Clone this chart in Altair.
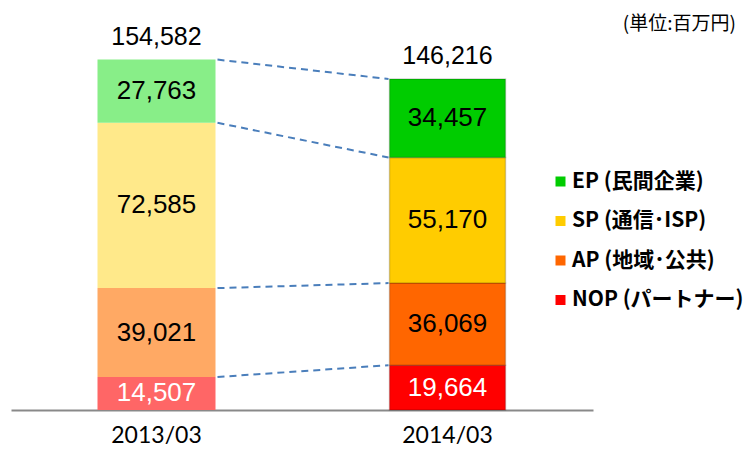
import altair as alt
import pandas as pd

# ---- data ----
periods = ["2013/03", "2014/03"]
segments = ["EP", "SP", "AP", "NOP"]          # top -> bottom
legend_labels = ["EP (民間企業)", "SP (通信･ISP)", "AP (地域･公共)", "NOP (パートナー)"]
values_2013 = [27763, 72585, 39021, 14507]
values_2014 = [34457, 55170, 36069, 19664]
totals = [154582, 146216]
unit_label = "(単位:百万円)"

colors_2013 = ["#88ee88", "#ffe98a", "#ffa964", "#ff6666"]
colors_2014 = ["#00cc00", "#ffcc00", "#ff6600", "#ff0000"]

# ---- build tables ----
rows = []
for period, vals in zip(periods, [values_2013, values_2014]):
    base = 0
    for seg, lab, v in reversed(list(zip(segments, legend_labels, vals))):
        rows.append(dict(period=period, segment=seg, label=lab, value=v,
                         y0=base, y1=base + v, mid=base + v / 2,
                         txt=f"{v:,}"))
        base += v
df = pd.DataFrame(rows)
df13 = df[df.period == periods[0]]
df14 = df[df.period == periods[1]]

tot_df = pd.DataFrame(dict(period=periods, total=totals,
                           txt=[f"{t:,}" for t in totals]))

conn = []
for seg in segments:
    a = df13[df13.segment == seg].iloc[0]
    b = df14[df14.segment == seg].iloc[0]
    conn.append(dict(p_from=periods[0], p_to=periods[1], y_from=a.y1, y_to=b.y1))
conn_df = pd.DataFrame(conn)

W, H = 582, 400
xscale = alt.Scale(domain=periods, paddingInner=0.594, paddingOuter=0.297)
yscale = alt.Scale(domain=[0, 175660], nice=False, zero=True)

xenc = alt.X("period:N", scale=xscale, sort=periods,
             axis=alt.Axis(title=None, labelAngle=0, ticks=False,
                           domainColor="#898989", domainWidth=2,
                           labelFont="Lato", labelFontSize=23,
                           labelColor="#000000", labelPadding=14))

bars13 = alt.Chart(df13).mark_bar(size=118).encode(
    x=xenc,
    y=alt.Y("y0:Q", scale=yscale, axis=None),
    y2="y1:Q",
    color=alt.Color("label:N", scale=alt.Scale(domain=legend_labels, range=colors_2013),
                    legend=None),
)

bars14 = alt.Chart(df14).mark_bar(size=116, stroke="#000000", strokeOpacity=0.18,
                                  strokeWidth=1.5).encode(
    x=xenc,
    y=alt.Y("y0:Q", scale=yscale, axis=None),
    y2="y1:Q",
    color=alt.Color("label:N", scale=alt.Scale(domain=legend_labels, range=colors_2014),
                    sort=legend_labels,
                    legend=alt.Legend(title=None, orient="none", legendX=539, legendY=161,
                                      symbolType="square", symbolSize=100,
                                      symbolStrokeWidth=0, labelLimit=300,
                                      labelFont="Noto Sans CJK JP", labelFontSize=21,
                                      labelFontWeight="bold", labelColor="#000000",
                                      rowPadding=17.5, labelOffset=1)),
)

vals = alt.Chart(df).mark_text(font="Liberation Sans", fontSize=26, baseline="middle").encode(
    x=alt.X("period:N", scale=xscale, sort=periods),
    y=alt.Y("mid:Q", scale=yscale),
    text="txt:N",
    color=alt.condition(alt.datum.segment == "NOP", alt.value("#ffffff"), alt.value("#000000")),
)

tots = alt.Chart(tot_df).mark_text(font="Liberation Sans", fontSize=25, baseline="bottom",
                                   dy=-8, color="#000000").encode(
    x=alt.X("period:N", scale=xscale, sort=periods),
    y=alt.Y("total:Q", scale=yscale),
    text="txt:N",
)

rules = alt.Chart(conn_df).mark_rule(color="#4a7ebb", strokeWidth=2, strokeDash=[7, 5],
                                     xOffset=61, x2Offset=-59).encode(
    x=alt.X("p_from:N", scale=xscale),
    x2="p_to:N",
    y=alt.Y("y_from:Q", scale=yscale),
    y2="y_to:Q",
)

unit = alt.Chart(pd.DataFrame(dict(t=[unit_label]))).mark_text(
    font="Noto Sans CJK JP", fontSize=19, align="right", baseline="middle", color="#000000"
).encode(x=alt.value(725), y=alt.value(14), text="t:N")

chart = alt.layer(bars13, bars14, rules, vals, tots, unit).resolve_scale(
    color="independent"
).properties(
    width=W, height=H,
    autosize=alt.AutoSizeParams(type="none"),
    padding={"left": 3, "top": 2, "right": 150, "bottom": 39},
).configure_view(stroke=None)

chart.save("out.html", embed_options={"renderer": "svg", "actions": False})
